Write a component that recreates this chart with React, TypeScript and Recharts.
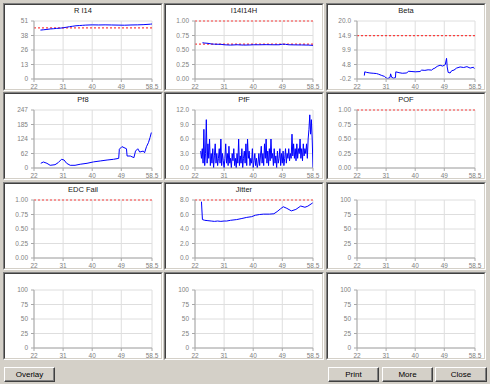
import React from 'react';
import { LineChart, Line, XAxis, YAxis, CartesianGrid, ReferenceLine } from 'recharts';

// ---- shared x axis ----
const xDomain: [number, number] = [22, 58.5];
const xTicks = [22, 31, 40, 49, 58.5];
const xTickLabels = ['22', '31', '40', '49', '58.5'];

// ---- panel titles ----
const titles = ['R I14', 'I14I14H', 'Beta', 'Pf8', 'PfF', 'POF', 'EDC Fail', 'Jitter', '', '', '', ''];

// ---- y axes ----
const yDomains: [number, number][] = [
  [0, 51], [0, 1], [-0.2, 20], [0, 247], [0, 12], [0, 1], [0, 1], [0, 8], [0, 100], [0, 100], [0, 100], [0, 100],
];
const yTickLabels: string[][] = [
  ['0', '13', '26', '38', '51'],
  ['0.00', '0.25', '0.50', '0.75', '1.00'],
  ['-0.2', '4.8', '9.9', '14.9', '20.0'],
  ['0', '62', '124', '185', '247'],
  ['0.0', '3.0', '6.0', '9.0', '12.0'],
  ['0.00', '0.25', '0.50', '0.75', '1.00'],
  ['0.00', '0.25', '0.50', '0.75', '1.00'],
  ['0.0', '2.0', '4.0', '6.0', '8.0'],
  ['0', '25', '50', '75', '100'],
  ['0', '25', '50', '75', '100'],
  ['0', '25', '50', '75', '100'],
  ['0', '25', '50', '75', '100'],
];

// ---- limit lines (red dotted) ----
const limits: number[][] = [[45], [1.0, 0.6], [14.9], [], [], [1.0], [1.0], [8.0], [], [], [], []];

// ---- series ----
const rI14Series: [number, number][] = [
  [24, 43], [25, 43.3], [26, 43.6], [27, 44], [28, 44.2], [29, 44.5], [30, 44.7], [31, 45], [32, 45.5],
  [33, 46], [34, 46.4], [35, 46.8], [36, 47], [37, 47.2], [38, 47.4], [40, 47.6], [42, 47.5], [44, 47.6],
  [46, 47.5], [48, 47.4], [50, 47.3], [52, 47.5], [54, 47.6], [56, 47.8], [58, 48.2], [58.5, 48.4],
];
const i14Series: [number, number][] = [
  [24.3, 0.625], [25, 0.62], [26, 0.615], [27, 0.605], [28, 0.6], [30, 0.598], [31, 0.59], [33, 0.585],
  [35, 0.59], [37, 0.585], [39, 0.587], [40, 0.59], [42, 0.59], [44, 0.592], [46, 0.59], [48, 0.59],
  [49, 0.6], [50, 0.598], [51, 0.59], [53, 0.588], [55, 0.587], [57, 0.585], [58.5, 0.58],
];
const betaSeries: [number, number][] = [
  [24.27, 1.0], [24.4, 2.3], [25, 2.1], [26, 1.9], [27, 1.8], [28, 1.7], [28.6, 1.5], [29.5, 1.1], [30.5, 0.7],
  [31, 0.2], [31.5, 0.0], [32.2, 0.3], [32.4, 1.6], [32.7, 0.4], [33.3, 0.1], [33.9, 0.3], [34.0, 2.3], [35, 2.0],
  [36, 1.8], [37.4, 1.9], [37.9, 2.5], [39, 2.4], [40, 2.3], [41.5, 2.4], [42, 2.9], [43, 2.8], [44, 3.0],
  [45.1, 2.9], [45.5, 3.3], [46.1, 3.6], [46.8, 4.2], [47.7, 4.6], [48.5, 4.3], [49.3, 4.8], [49.7, 7.0],
  [49.9, 4.0], [50.2, 2.1], [50.8, 1.9], [51.3, 2.7], [52, 2.9], [52.8, 3.6], [53.9, 4.0], [55, 3.8],
  [56, 4.1], [57, 3.6], [58, 3.9], [58.3, 3.4],
];
const pf8Series: [number, number][] = [
  [24.1, 20], [24.9, 25.6], [26, 20], [27, 11.5], [28.5, 14], [29.5, 23], [30.5, 37], [31.3, 34], [32.1, 20],
  [33.2, 11.5], [34.7, 11.5], [36.3, 16], [38.4, 20], [40.4, 26], [42.5, 30], [44.6, 34], [46.6, 37],
  [48.2, 41], [48.4, 80], [49.2, 91], [50.6, 82], [50.8, 51], [51.8, 51], [52.9, 44], [53.4, 72], [54.1, 82],
  [54.7, 68], [55.8, 72], [56.2, 65], [56.8, 91], [57.4, 108], [57.9, 130], [58.3, 151],
];
const pfFSeries: [number, number][] = [
  [23.75, 3.5], [24, 2], [24.25, 4], [24.5, 1], [24.75, 8], [25, 0.5], [25.25, 3], [25.5, 10], [25.75, 1],
  [26, 5], [26.25, 2], [26.5, 6], [26.75, 0.5], [27, 3], [27.25, 1], [27.5, 4], [27.75, 0], [28, 2.5],
  [28.25, 5], [28.5, 1], [28.75, 3], [29, 0.5], [29.25, 2], [29.5, 4], [29.75, 1], [30, 6], [30.25, 0.5],
  [30.5, 3], [30.75, 1.5], [31, 0], [31.25, 2], [31.5, 5], [31.75, 1], [32, 3], [32.25, 0.5], [32.5, 4.5],
  [32.75, 1], [33, 2], [33.25, 0], [33.5, 3], [33.75, 1.5], [34, 4], [34.25, 0.5], [34.5, 2], [34.75, 0],
  [35, 3], [35.25, 1], [35.5, 6], [35.75, 0.5], [36, 2.5], [36.25, 1], [36.5, 4], [36.75, 0], [37, 2],
  [37.25, 3.5], [37.5, 1], [37.75, 5], [38, 0.5], [38.25, 6], [38.5, 2], [38.75, 3.5], [39, 0.5], [39.25, 2],
  [39.5, 1], [39.75, 4], [40, 0], [40.25, 1.5], [40.5, 3], [40.75, 0.5], [41, 2], [41.25, 0], [41.5, 1],
  [41.75, 3], [42, 0.5], [42.25, 2.5], [42.5, 4.5], [42.75, 1], [43, 3], [43.25, 0.5], [43.5, 5], [43.75, 2],
  [44, 6], [44.25, 1], [44.5, 3.5], [44.75, 0.5], [45, 4], [45.25, 1.5], [45.5, 6], [45.75, 2], [46, 3],
  [46.25, 0.5], [46.5, 4], [46.75, 1], [47, 2.5], [47.25, 0], [47.5, 3.5], [47.75, 1], [48, 2], [48.25, 4],
  [48.5, 0.5], [48.75, 3], [49, 1], [49.25, 3.5], [49.5, 0.5], [49.75, 2], [50, 4], [50.25, 1], [50.5, 3],
  [50.75, 2], [51, 4], [51.25, 1.5], [51.5, 3], [51.75, 2], [52, 7], [52.25, 2.5], [52.5, 5], [52.75, 2],
  [53, 4], [53.25, 1.5], [53.5, 5], [53.75, 2], [54, 4], [54.25, 3], [54.5, 6], [54.75, 2], [55, 4],
  [55.25, 1.5], [55.5, 5], [55.75, 2.5], [56, 4], [56.25, 3], [56.5, 5], [56.75, 2], [57, 6], [57.25, 8],
  [57.5, 11], [57.75, 7], [58, 10], [58.25, 6], [58.5, 0],
];
const jitterSeries: [number, number][] = [
  [24, 7.77], [24.3, 5.3], [25, 5.2], [26, 5.15], [27, 5.1], [28, 5.05], [29, 5.1], [30, 5.05], [31, 5.1],
  [31.8, 5.1], [33, 5.2], [34.9, 5.3], [36.5, 5.45], [38, 5.6], [39.5, 5.7], [40.7, 5.9], [42, 6.0],
  [43.2, 6.05], [45, 6.05], [46.4, 6.1], [47.4, 6.4], [48.5, 6.8], [49.3, 7.07], [50.4, 6.85], [51.8, 6.5],
  [53.2, 6.7], [54.7, 7.17], [56, 7.0], [56.9, 7.15], [57.9, 7.45], [58.4, 7.6],
];
const seriesList: ([number, number][] | null)[] = [
  rI14Series, i14Series, betaSeries, pf8Series, pfFSeries, null, null, jitterSeries, null, null, null, null,
];

// ---- layout ----
const PW = 160;
const PH = 88;
const colLefts = [3, 164, 326];
const rowTops = [3, 92, 182, 272];
const FONT = '"Liberation Sans", Arial, sans-serif';
const BG = '#d4d0c8';

function Panel({ idx, left, top }: { idx: number; left: number; top: number }) {
  const [y0, y1] = yDomains[idx];
  const labels = yTickLabels[idx];
  const yTicks = labels.map((_, i) => y0 + ((y1 - y0) * i) / (labels.length - 1));
  const series = seriesList[idx];
  const data = series ? series.map(([x, y]) => ({ x, y })) : [];
  const tickStyle = { fontSize: 6.5, fill: '#808080', fontFamily: FONT };
  return (
    <div
      style={{
        position: 'absolute', left, top, width: PW, height: PH, boxSizing: 'border-box', background: '#fff',
        borderTop: '1px solid #808080', borderLeft: '1px solid #808080',
        borderRight: '1px solid #ffffff', borderBottom: '1px solid #ffffff',
      }}
    >
      <div
        style={{
          position: 'relative', width: '100%', height: '100%', boxSizing: 'border-box',
          borderTop: '1px solid #404040', borderLeft: '1px solid #404040',
          borderRight: '1px solid #d4d0c8', borderBottom: '1px solid #d4d0c8',
        }}
      >
        <LineChart
          width={PW - 4}
          height={PH - 4}
          data={data}
          margin={{ top: 16, right: 9, bottom: 0, left: 0 }}
        >
          <CartesianGrid stroke="#dedede" strokeWidth={1} />
          <XAxis
            type="number"
            dataKey="x"
            domain={xDomain}
            ticks={xTicks}
            interval={0}
            allowDataOverflow
            height={10}
            tickSize={3}
            tickMargin={2}
            stroke="#a8a8a8"
            tick={tickStyle}
            tickFormatter={(_v: number, i: number) => xTickLabels[i]}
          />
          <YAxis
            type="number"
            domain={[y0, y1]}
            ticks={yTicks}
            interval={0}
            allowDataOverflow
            width={29}
            tickSize={3}
            tickMargin={3}
            stroke="#a8a8a8"
            tick={tickStyle}
            tickFormatter={(_v: number, i: number) => labels[i]}
          />
          {limits[idx].map((v, i) => (
            <ReferenceLine
              key={i}
              y={v}
              stroke="#ff2020"
              strokeDasharray="2 2"
              strokeWidth={1.2}
              strokeOpacity={0.85}
            />
          ))}
          {series && (
            <Line
              type="linear"
              dataKey="y"
              stroke="#0000ff"
              strokeWidth={1}
              dot={false}
              isAnimationActive={false}
            />
          )}
        </LineChart>
        <div
          style={{
            position: 'absolute', left: 0, top: 1, width: '100%', textAlign: 'center',
            fontFamily: FONT, fontSize: 7.5, lineHeight: '9px', color: '#202020',
          }}
        >
          {titles[idx]}
        </div>
      </div>
    </div>
  );
}

function Button({ label, left, width }: { label: string; left: number; width: number }) {
  return (
    <div
      style={{
        position: 'absolute', left, top: 367, width, height: 15, boxSizing: 'border-box', background: BG,
        borderTop: '1px solid #ffffff', borderLeft: '1px solid #ffffff',
        borderRight: '1px solid #404040', borderBottom: '1px solid #404040',
        boxShadow: 'inset -1px -1px 0 #808080',
        fontFamily: FONT, fontSize: 8, lineHeight: '13px', textAlign: 'center', color: '#000',
      }}
    >
      {label}
    </div>
  );
}

export default function App() {
  const panels = [];
  for (let r = 0; r < 4; r++) {
    for (let c = 0; c < 3; c++) {
      const idx = r * 3 + c;
      panels.push(<Panel key={idx} idx={idx} left={colLefts[c]} top={rowTops[r]} />);
    }
  }
  return (
    <div style={{ position: 'absolute', left: 0, top: 0, width: 490, height: 384, background: BG, overflow: 'hidden' }}>
      {panels}
      <Button label="Overlay" left={4} width={51} />
      <Button label="Print" left={328} width={51} />
      <Button label="More" left={382} width={51} />
      <Button label="Close" left={435} width={52} />
    </div>
  );
}
